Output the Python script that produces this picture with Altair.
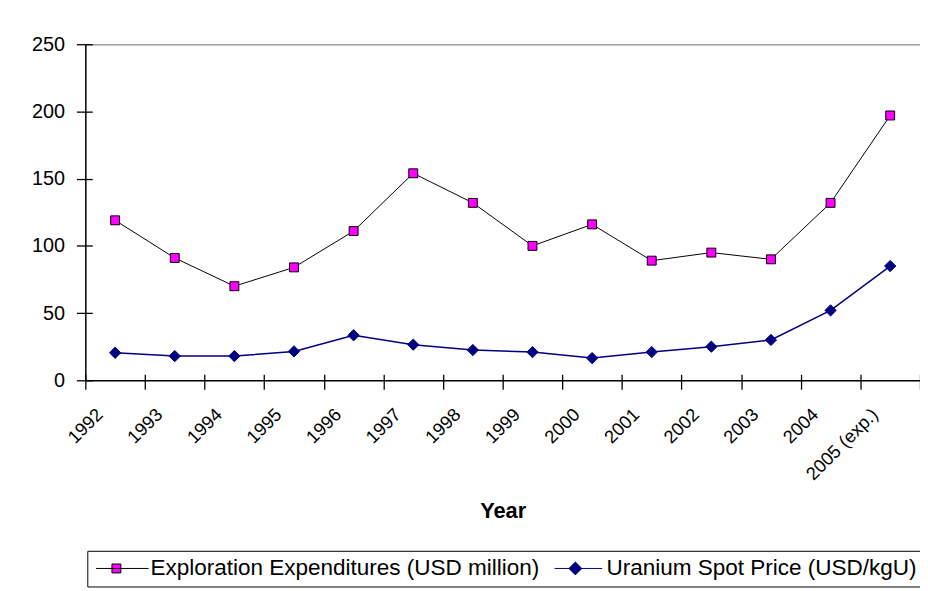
import altair as alt
import pandas as pd

years = ["1992", "1993", "1994", "1995", "1996", "1997", "1998", "1999",
         "2000", "2001", "2002", "2003", "2004", "2005 (exp.)"]
exploration = [119, 91, 70, 84, 111, 154, 132, 100, 116, 89, 95, 90, 132, 197]
uranium = [20.5, 18, 18, 21.5, 33.5, 26.5, 22.5, 21, 16.5, 21, 25, 30, 52, 85]
series_names = ["Exploration Expenditures (USD million)", "Uranium Spot Price (USD/kgU)"]
y_ticks = [0, 50, 100, 150, 200, 250]

df = pd.DataFrame({
    "year": years * 2,
    "series": [series_names[0]] * len(years) + [series_names[1]] * len(years),
    "value": exploration + uranium,
})

FONT = "Liberation Sans"
x_scale = alt.Scale(type="band", paddingInner=0, paddingOuter=0, domain=years)
y_scale = alt.Scale(domain=[0, 250], nice=False)

x_main_axis = alt.Axis(
    tickBand="extent", tickSize=9, tickColor="black", tickWidth=1.3,
    domainColor="black", domainWidth=1.5, labelAngle=-45, labelFontSize=18.5,
    labelColor="black", labelFont=FONT, labelPadding=22, labelAlign="right",
    labelBaseline="middle", labelOffset=-16, title="Year",
    titleFontSize=22, titleFontWeight="bold", titleColor="black", titleFont=FONT,
    titlePadding=18, grid=False,
)
y_main_axis = alt.Axis(
    values=y_ticks, tickSize=9, tickColor="black", tickWidth=1.3,
    domainColor="black", domainWidth=1.5, labelFontSize=20, labelColor="black",
    labelFont=FONT, labelPadding=12, title=None, grid=True, gridWidth=1.5,
    gridColor={"condition": {"test": "datum.value === 250", "value": "#a0a0a0"},
               "value": "transparent"},
)
x_inner_axis = alt.Axis(
    orient="bottom", offset=-6, tickBand="extent", tickSize=6, tickColor="black",
    tickWidth=1.3, domain=False, labels=False, title=None, grid=False,
)
y_inner_axis = alt.Axis(
    orient="left", offset=-7, values=y_ticks, tickSize=7, tickColor="black",
    tickWidth=1.3, domain=False, labels=False, title=None, grid=False,
)

base = alt.Chart(df)

line_exp = base.transform_filter(alt.datum.series == series_names[0]).mark_line(
    color="black", strokeWidth=1
).encode(
    x=alt.X("year:N", sort=years, scale=x_scale, bandPosition=0.5, axis=x_main_axis),
    y=alt.Y("value:Q", scale=y_scale, axis=y_main_axis),
)

line_ura = base.transform_filter(alt.datum.series == series_names[1]).mark_line(
    color="#000080", strokeWidth=1.5
).encode(
    x=alt.X("year:N", sort=years, scale=x_scale, bandPosition=0.5, axis=x_inner_axis),
    y=alt.Y("value:Q", scale=y_scale, axis=y_inner_axis),
)

pts_exp = base.transform_filter(alt.datum.series == series_names[0]).mark_point(
    shape="square", filled=True, fill="#ff00ff", stroke="black", strokeWidth=1,
    size=81, opacity=1
).encode(
    x=alt.X("year:N", sort=years, scale=x_scale, bandPosition=0.5, axis=None),
    y=alt.Y("value:Q", scale=y_scale, axis=None),
)

pts_ura = base.transform_filter(alt.datum.series == series_names[1]).mark_point(
    shape="diamond", filled=True, fill="#000080", stroke="#000080", strokeWidth=1,
    size=130, opacity=1
).encode(
    x=alt.X("year:N", sort=years, scale=x_scale, bandPosition=0.5, axis=None),
    y=alt.Y("value:Q", scale=y_scale, axis=None),
)

path_exp = "M-5.3,0H5.3M-2.1,-0.9H-0.3V0.9H-2.1Z"
path_ura = "M-4.8,0H4.8M-1.9,0L-0.6,-1.3L0.7,0L-0.6,1.3Z"

legend = alt.Legend(
    orient="none", legendX=2, legendY=511, direction="horizontal", title=None,
    strokeColor="black", fillColor="white", padding=6, symbolSize=100,
    symbolOffset=18, labelOffset=17, labelFontSize=22.7, labelFont=FONT,
    labelColor="black", labelLimit=600, columnPadding=10, symbolStrokeWidth=1,
    symbolOpacity=1, cornerRadius=0,
)

legend_layer = base.transform_filter("false").mark_point(filled=True, opacity=1).encode(
    shape=alt.Shape("series:N", scale=alt.Scale(domain=series_names, range=[path_exp, path_ura]),
                    legend=legend),
    fill=alt.Fill("series:N", scale=alt.Scale(domain=series_names, range=["#ff00ff", "#000080"]),
                  legend=legend),
    stroke=alt.Stroke("series:N", scale=alt.Scale(domain=series_names, range=["black", "#000080"]),
                      legend=legend),
)

chart = alt.layer(line_exp, line_ura, pts_exp, pts_ura, legend_layer).resolve_axis(
    x="independent", y="independent"
).properties(
    width=842, height=339,
    autosize=alt.AutoSizeParams(type="none"),
    padding={"left": 78, "top": 34, "right": 0, "bottom": 210},
    background="white",
).configure_view(stroke=None).configure(font=FONT)

chart.save("out.html", embed_options={"renderer": "svg", "actions": False})
